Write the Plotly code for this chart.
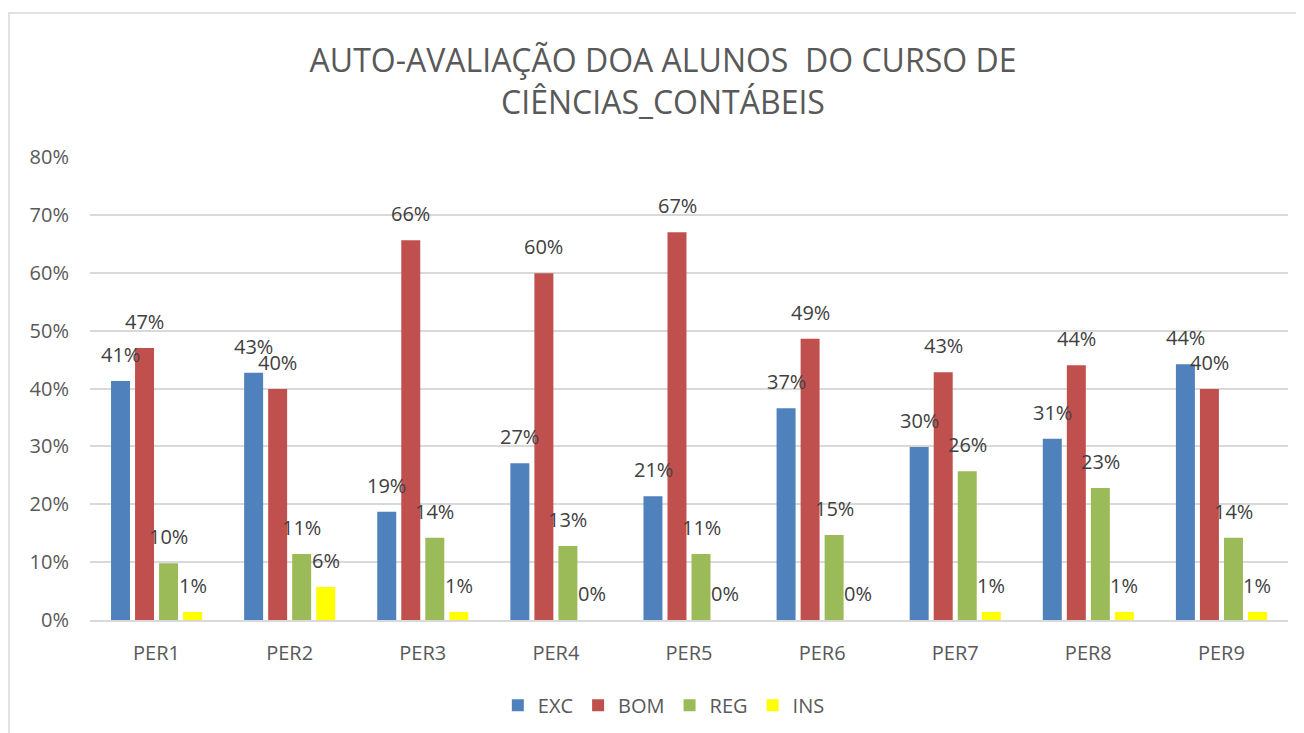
import plotly.graph_objects as go

categories = ["PER1", "PER2", "PER3", "PER4", "PER5", "PER6", "PER7", "PER8", "PER9"]
exc = [0.413, 0.427, 0.187, 0.271, 0.214, 0.366, 0.299, 0.313, 0.442]
bom = [0.470, 0.399, 0.656, 0.599, 0.670, 0.486, 0.428, 0.440, 0.399]
reg = [0.098, 0.114, 0.142, 0.128, 0.114, 0.147, 0.257, 0.228, 0.142]
ins = [0.014, 0.057, 0.014, 0.0, 0.0, 0.0, 0.014, 0.014, 0.014]

series_names = ["EXC", "BOM", "REG", "INS"]
series_values = [exc, bom, reg, ins]
series_colors = ["#4F81BD", "#C0504D", "#9BBB59", "#FFFF00"]

FONT = "Open Sans"

fig = go.Figure()
for name, vals, col in zip(series_names, series_values, series_colors):
    fig.add_trace(go.Bar(
        x=categories, y=vals, name=name,
        marker=dict(color=col, line=dict(width=0)),
    ))

# data labels as annotations above each bar
slot_px = 24
for i, vals in enumerate(series_values):
    for c, v in zip(categories, vals):
        fig.add_annotation(
            x=c, y=v, text=f"{round(v*100):.0f}%",
            showarrow=False, xanchor="center", yanchor="bottom",
            xshift=(i - 1.5) * slot_px, yshift=11,
            font=dict(family=FONT, size=20, color="#404040"),
        )

# chart outer border (Excel chart area)
fig.add_shape(type="rect", xref="paper", yref="paper",
              x0=(9 - 90) / 1198, x1=1.2, y0=-0.5, y1=(620 - 13) / 463,
              line=dict(color="#D9D9D9", width=1.5), fillcolor="rgba(0,0,0,0)",
              layer="below")

fig.update_layout(
    width=1296, height=725,
    margin=dict(l=82, r=16, t=149, b=113, autoexpand=False),
    paper_bgcolor="white", plot_bgcolor="white",
    barmode="group", bargap=0.278, bargroupgap=0.21,
    title=dict(
        text="AUTO-AVALIAÇÃO DOA ALUNOS  DO CURSO DE<br>CIÊNCIAS_CONTÁBEIS",
        x=655 / 1296, xanchor="center", xref="container",
        y=1 - 64 / 725, yanchor="middle", yref="container",
        font=dict(family=FONT, size=32, color="#595959"),
    ),
    font=dict(family=FONT, size=20, color="#595959"),
    legend=dict(
        orientation="h", x=0.479, xanchor="center", y=-0.184, yanchor="middle",
        font=dict(family=FONT, size=20, color="#595959"),
        itemwidth=30,
    ),
    showlegend=True,
)
fig.update_xaxes(
    showgrid=False, showline=True, linecolor="#D9D9D9", linewidth=1.5,
    ticks="", ticklabelstandoff=14,
    tickfont=dict(family=FONT, size=20, color="#595959"),
)
fig.update_yaxes(
    range=[0, 0.8], dtick=0.1, tickformat=".0%",
    showgrid=True, gridcolor="#D9D9D9", gridwidth=1.5,
    zeroline=False, showline=False, ticks="", ticklabelstandoff=20,
    tickfont=dict(family=FONT, size=20, color="#595959"),
)

fig.write_html("out.html")
